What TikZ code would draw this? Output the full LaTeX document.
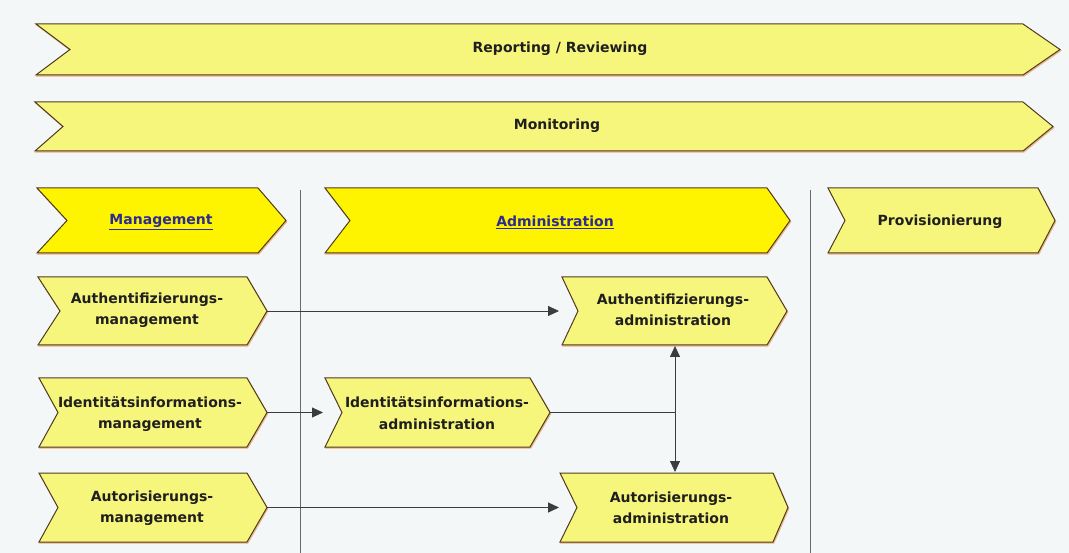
\documentclass[tikz,border=0pt]{standalone}
\usepackage{fontspec}
\setmainfont{DejaVu Sans}
\usetikzlibrary{arrows.meta}
\definecolor{bg}{HTML}{F3F7F7}
\definecolor{pale}{HTML}{F7F67C}
\definecolor{bright}{HTML}{FFF400}
\definecolor{edge}{HTML}{4E3C22}
\definecolor{shade}{HTML}{EDB588}
\definecolor{link}{HTML}{2B2B92}
\definecolor{wire}{HTML}{3C3C3C}
\definecolor{divider}{HTML}{6A6A6A}
\newcommand{\chevshape}[8]{%
  \path[fill=shade,draw=shade,line width=1pt,shift={(0.8,1.2)}]
    (#2,#6) -- (#4,#6) -- (#5,{(#6+#7)/2}) -- (#4,#7) -- (#2,#7) -- (#3,{(#6+#7)/2}) -- cycle;
  \path[fill=#8,draw=edge,line width=1pt,line join=miter]
    (#2,#6) -- (#4,#6) -- (#5,{(#6+#7)/2}) -- (#4,#7) -- (#2,#7) -- (#3,{(#6+#7)/2}) -- cycle;
  \coordinate (#1-tip) at (#5,{(#6+#7)/2});
  \coordinate (#1-west) at (#2,{(#6+#7)/2});
}
\tikzset{
  label/.style={font=\bfseries\fontsize{14}{21.5}\selectfont, text=black!88, align=center, inner sep=0pt},
  linklabel/.style={label, text=link},
  wireline/.style={draw=wire, line width=0.8pt},
  arrowline/.style={wireline, -{Triangle[length=11pt,width=10pt]}},
  dividerline/.style={draw=divider, line width=1pt}
}
\begin{document}
\begin{tikzpicture}[x=1pt,y=-1pt]
\fill[bg] (0,0) rectangle (1069,553);
\useasboundingbox (0,0) rectangle (1069,553);
% dividers
\draw[dividerline] (300,190) -- (300,553);
\draw[dividerline] (810,190) -- (810,553);
% top bars
\chevshape{rep}{36}{70}{1023}{1060}{24}{75}{pale}
\node[label] (repT) at (560,49) {Reporting / Reviewing};
\chevshape{mon}{35}{63}{1023}{1053}{102}{151}{pale}
\node[label] (monT) at (557,126) {Monitoring};
% column heads
\chevshape{man}{37}{67}{258}{286}{188}{253}{bright}
\node[linklabel] (manT) at (161,222) {\underline{Management}};
\chevshape{adm}{325}{350}{767}{790}{188}{253}{bright}
\node[linklabel] (admT) at (555,222) {\underline{Administration}};
\chevshape{prov}{828}{845}{1038}{1055}{188}{253}{pale}
\node[label] (provT) at (940,222) {Provisionierung};
% management column
\chevshape{am}{38}{60}{247}{267}{277}{345}{pale}
\node[label] (amT) at (147,310) {Authentifizierungs-\\management};
\chevshape{im}{39}{58}{247}{267}{378}{447}{pale}
\node[label] (imT) at (150,414) {Identitätsinformations-\\management};
\chevshape{um}{39}{58}{247}{267}{473}{542}{pale}
\node[label] (umT) at (152,508) {Autorisierungs-\\management};
% administration column
\chevshape{aa}{562}{578}{767}{787}{277}{345}{pale}
\node[label] (aaT) at (673,310) {Authentifizierungs-\\administration};
\chevshape{ia}{325}{342}{530}{550}{378}{447}{pale}
\node[label] (iaT) at (437,413) {Identitätsinformations-\\administration};
\chevshape{ua}{560}{577}{773}{788}{473}{542}{pale}
\node[label] (uaT) at (671,508) {Autorisierungs-\\administration};
% connectors
\coordinate (aaBottom) at (675,346);
\coordinate (uaTop) at (675,472);
\coordinate (junction) at (675,412.5);
\draw[arrowline] (am-tip) -- ([xshift=-3pt]aa-west);
\draw[arrowline] (im-tip) -- ([xshift=-2pt]ia-west);
\draw[arrowline, line width=1.3pt] (um-tip) -- ([xshift=-1pt]ua-west);
\draw[wireline] (ia-tip) -- (junction);
\draw[wireline, {Triangle[length=11pt,width=10pt]}-{Triangle[length=11pt,width=10pt]}] (aaBottom) -- (uaTop);
\end{tikzpicture}
\end{document}
